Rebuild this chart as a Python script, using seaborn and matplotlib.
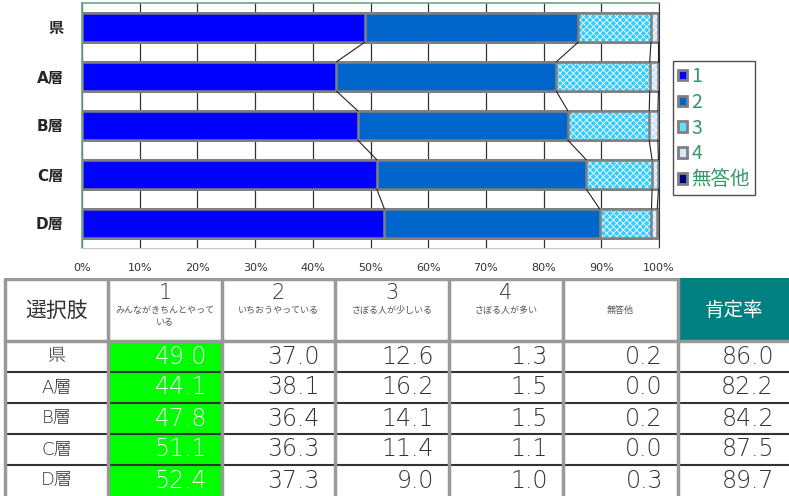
import matplotlib.pyplot as plt
import seaborn as sns
from matplotlib.patches import Patch, Rectangle

# data
groups = ['県', 'A層', 'B層', 'C層', 'D層']
series = ['1', '2', '3', '4', '無答他']
v1 = [49.0, 44.1, 47.8, 51.1, 52.4]
v2 = [37.0, 38.1, 36.4, 36.3, 37.3]
v3 = [12.6, 16.2, 14.1, 11.4, 9.0]
v4 = [1.3, 1.5, 1.5, 1.1, 1.0]
v5 = [0.2, 0.0, 0.2, 0.0, 0.3]
positive = [86.0, 82.2, 84.2, 87.5, 89.7]
header_nums = ['1', '2', '3', '4']
header_desc = ['みんながきちんとやって\nいる', 'いちおうやっている', 'さぼる人が少しいる', 'さぼる人が多い']
xticks = [0, 10, 20, 30, 40, 50, 60, 70, 80, 90, 100]

sns.set_style('white')
plt.rcParams['font.family'] = ['Noto Sans CJK JP', 'DejaVu Sans']
plt.rcParams['hatch.linewidth'] = 0.6
wide = ['DejaVu Sans', 'Noto Sans CJK JP']

colors = ['#0000FF', '#0066CC', '#33CCFF', '#C6E0FF', '#000080']
hatches = [None, None, 'xxxxx', 'xxxxx', None]
edge = '#808080'

values = [v1, v2, v3, v4, v5]
cums = []
run = [0.0] * len(groups)
for vals in values:
    run = [a + b for a, b in zip(run, vals)]
    cums.append(run)

fig = plt.figure(figsize=(7.89, 4.96), dpi=100)
ax = fig.add_axes([82 / 789, 1 - 248 / 496, 577 / 789, 245 / 496])

for x in xticks:
    ax.axvline(x, color='#333333', lw=0.9, zorder=0)

# stacked bars drawn back to front as cumulative totals
for j in range(len(series) - 1, -1, -1):
    kw = dict(x=cums[j], y=groups, orient='h', width=0.6, ax=ax, saturation=1)
    if hatches[j]:
        sns.barplot(color=colors[j], edgecolor='white', linewidth=0, hatch=hatches[j], **kw)
    else:
        sns.barplot(color=colors[j], linewidth=0, **kw)
    sns.barplot(color=edge, fill=False, linewidth=1.8, **kw)

# series lines between bars
for j in range(len(series) - 1):
    for i in range(len(groups) - 1):
        ax.plot([cums[j][i], cums[j][i + 1]], [i + 0.3, i + 0.7], color='#222222', lw=0.8, zorder=5)

ax.set_xlim(0, 100)
ax.set_ylim(4.5, -0.5)
ax.set_xticks(xticks)
ax.set_xticklabels([f'{t}%' for t in xticks], fontsize=8, color='#333333', family='DejaVu Sans')
ax.tick_params(axis='x', length=0, pad=11)
ax.tick_params(axis='y', length=0, pad=13)
for lbl in ax.get_yticklabels():
    lbl.set_fontsize(11)
    lbl.set_fontweight('bold')
    lbl.set_family(wide)
ax.set_xlabel('')
ax.set_ylabel('')
for s in ['top', 'left']:
    ax.spines[s].set_color('#6aa586')
    ax.spines[s].set_linewidth(1.2)
ax.spines['right'].set_color('#333333')
ax.spines['bottom'].set_color('#c8c8c8')

handles = [Patch(facecolor=c, edgecolor=edge, lw=2) for c in ['#0000FF', '#0066CC', '#66DDFF', '#D6E8FF', '#000080']]
leg = fig.legend(handles, series, loc='upper left', bbox_to_anchor=(673 / 789, 1 - 61 / 496),
                 fontsize=14, frameon=True, fancybox=False, edgecolor='#222222',
                 handlelength=0.45, handleheight=0.45, handletextpad=0.25, labelspacing=0.25,
                 borderpad=0.25, borderaxespad=0)
leg.get_frame().set_linewidth(1.0)
for t in leg.get_texts():
    t.set_color('#339966')

# table
tab = fig.add_axes([0, 0, 1, 218 / 496])
tab.set_xlim(0, 789)
tab.set_ylim(496, 278)
tab.axis('off')
col_x = [5, 108, 222, 335, 449, 563, 678, 789]
row_y = [280, 341, 372, 403, 434, 465, 496]

tab.add_patch(Rectangle((col_x[6], 278), col_x[7] - col_x[6], row_y[1] - 278, facecolor='#008080', lw=0))
for r in range(len(groups)):
    tab.add_patch(Rectangle((col_x[1], row_y[r + 1]), col_x[2] - col_x[1], row_y[r + 2] - row_y[r + 1],
                            facecolor='#00FF00', lw=0))

for y in row_y[2:-1]:
    tab.plot([col_x[0], col_x[7]], [y, y], color='#333333', lw=1.5)
tab.plot([col_x[0], col_x[7]], [row_y[1], row_y[1]], color='#999999', lw=2.5)
tab.plot([col_x[0], col_x[6]], [279, 279], color='#999999', lw=2.5)
for x in col_x[:-1]:
    tab.plot([x, x], [279, 496], color='#999999', lw=2.5)

hc = (row_y[0] + row_y[1]) / 2
tab.text((col_x[0] + col_x[1]) / 2, hc, '選択肢', ha='center', va='center', fontsize=15, color='#333333')
for k in range(4):
    cx = (col_x[k + 1] + col_x[k + 2]) / 2
    tab.text(cx, 293, header_nums[k], ha='center', va='center', fontsize=15, color='#333333',
             family=wide, fontweight='light')
    tab.text(cx, 306, header_desc[k], ha='center', va='top', fontsize=6.5, color='#555555', linespacing=1.4)
tab.text((col_x[5] + col_x[6]) / 2, hc, '無答他', ha='center', va='center', fontsize=6.5, color='#555555')
tab.text((col_x[6] + col_x[7]) / 2, hc, '肯定率', ha='center', va='center', fontsize=14, color='white')

table_cols = values + [positive]
for r, g in enumerate(groups):
    cy = (row_y[r + 1] + row_y[r + 2]) / 2
    tab.text((col_x[0] + col_x[1]) / 2, cy, g, ha='center', va='center', fontsize=13, color='#333333',
             family=wide, fontweight='light')
    for c, col in enumerate(table_cols):
        tab.text(col_x[c + 2] - 15, cy, f'{col[r]:.1f}', ha='right', va='center', fontsize=17,
                 color='white' if c == 0 else '#333333', family=wide, fontweight='light')

fig.savefig('out.png', dpi=100)
